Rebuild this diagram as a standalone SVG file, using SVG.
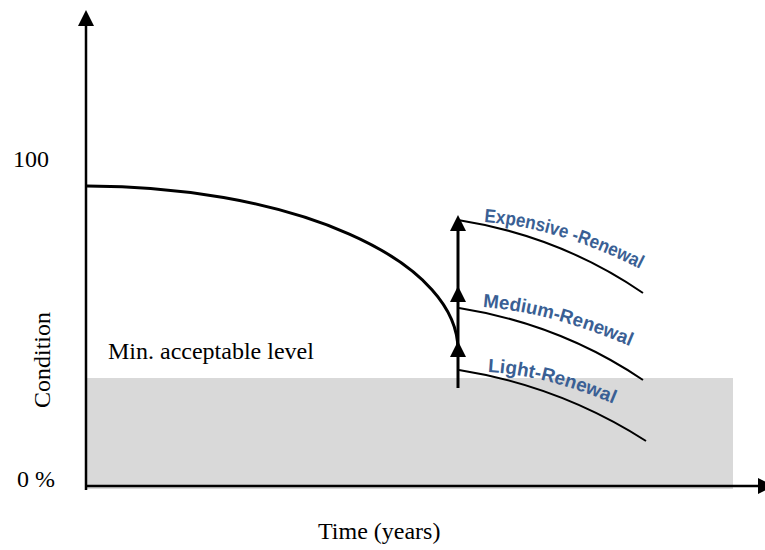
<svg xmlns="http://www.w3.org/2000/svg" xmlns:xlink="http://www.w3.org/1999/xlink" width="765" height="550" viewBox="0 0 765 550">
  <style>
    .serif { font-family: "Liberation Serif", "Times New Roman", serif; font-size: 24px; fill: #000; }
    .axis { stroke: #000; stroke-width: 2.5; fill: none; }
    .decay { stroke: #000; stroke-width: 3; fill: none; }
    .branch { stroke: #000; stroke-width: 2; fill: none; }
    .lift { stroke: #000; stroke-width: 3; fill: none; }
    .head { fill: #000; }
    .lbl { font-family: "Liberation Sans", Arial, sans-serif; font-weight: bold; font-size: 19px; fill: #3A5F94; }
  </style>
  <defs>
    <path id="arrowUp" d="M0,0 L8,16 L-8,16 Z"/>
    <path id="tpExpensive" d="M484,222 Q560,228 642,270"/>
    <path id="tpMedium" d="M483,307 Q550,312 632,347"/>
    <path id="tpLight" d="M488,372 Q545,375 614,404"/>
  </defs>

  <!-- band below the minimum acceptable level -->
  <rect id="band" x="87" y="378" width="646" height="111" fill="#D9D9D9"/>

  <!-- axes -->
  <g id="axes">
    <line class="axis" x1="86" y1="490" x2="86" y2="24"/>
    <use class="head" xlink:href="#arrowUp" x="86" y="10"/>
    <line class="axis" x1="85" y1="486" x2="760" y2="486"/>
    <path class="head" d="M774,486 L758,478 L758,494 Z"/>
  </g>

  <g id="connectors">
    <!-- condition decay curve -->
    <path id="decay" class="decay" d="M87,186 A371,164 0 0 1 458,350"/>
    <!-- renewal lift -->
    <line class="lift" x1="458" y1="388" x2="458" y2="225"/>
    <use class="head" xlink:href="#arrowUp" x="458" y="215"/>
    <use class="head" xlink:href="#arrowUp" x="458" y="286"/>
    <use class="head" xlink:href="#arrowUp" x="458" y="341"/>
    <!-- post-renewal decay curves -->
    <path class="branch" d="M458,220 Q560,236 643,293"/>
    <path class="branch" d="M459,308 Q560,324 643,380"/>
    <path class="branch" d="M459,370 Q560,386 646,441"/>
  </g>

  <g id="label-expensive">
    <text class="lbl"><textPath xlink:href="#tpExpensive" textLength="164" lengthAdjust="spacingAndGlyphs">Expensive -Renewal</textPath></text>
  </g>
  <g id="label-medium">
    <text class="lbl"><textPath xlink:href="#tpMedium" textLength="153" lengthAdjust="spacingAndGlyphs">Medium-Renewal</textPath></text>
  </g>
  <g id="label-light">
    <text class="lbl"><textPath xlink:href="#tpLight" textLength="130" lengthAdjust="spacingAndGlyphs">Light-Renewal</textPath></text>
  </g>

  <g id="axis-labels">
    <text class="serif" x="13" y="167">100</text>
    <text class="serif" x="17" y="487">0 %</text>
    <text class="serif" x="108" y="359">Min. acceptable level</text>
    <text class="serif" transform="translate(50,360) rotate(-90)" text-anchor="middle">Condition</text>
    <text class="serif" x="318" y="539">Time (years)</text>
  </g>
</svg>
